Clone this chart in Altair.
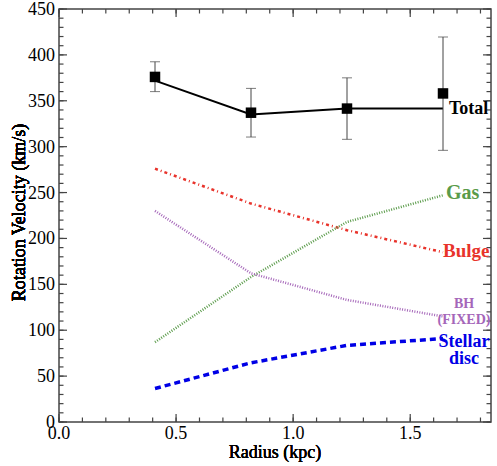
import altair as alt
import pandas as pd

# ---- data ----
radius = [0.41, 0.82, 1.23, 1.64]
total_obs = [376, 337, 341.5, 358]
total_lo = [360, 310.5, 308, 296]
total_hi = [392.5, 363.5, 375, 419.5]
total_model = [372, 335, 341.5, 341.5]
bulge = [276, 238, 209, 185]
gas = [87, 158, 218, 247]
bh = [230, 162, 133, 115]
stellar = [36.5, 64.5, 83.5, 91]

x_major = [0.0, 0.5, 1.0, 1.5]
x_minor = [0.0, 0.1, 0.2, 0.3, 0.4, 0.5, 0.6, 0.7, 0.8, 0.9,
           1.0, 1.1, 1.2, 1.3, 1.4, 1.5, 1.6, 1.7, 1.8]
y_major = [0, 50, 100, 150, 200, 250, 300, 350, 400, 450]
y_minor = list(range(0, 451, 10))

x_title = "Radius (kpc)"
y_title = "Rotation Velocity (km/s)"

W, H = 432, 413
XD = [0, 1.845]
YD = [0, 450]
FONT = "Liberation Serif"
AX = "#444444"

obs = pd.DataFrame({"x": radius, "v": total_obs, "lo": total_lo, "hi": total_hi})
comp = pd.DataFrame({
    "x": radius * 5,
    "v": total_model + bulge + gas + bh + stellar,
    "s": ["total"] * 4 + ["bulge"] * 4 + ["gas"] * 4 + ["bh"] * 4 + ["stellar"] * 4,
})
xt_major = pd.DataFrame({"t": x_major})
xt_minor = pd.DataFrame({"t": x_minor})
yt_major = pd.DataFrame({"t": y_major})
yt_minor = pd.DataFrame({"t": y_minor})

xs = alt.Scale(domain=XD, nice=False, zero=False)
ys = alt.Scale(domain=YD, nice=False, zero=False)


def X(field="x:Q"):
    return alt.X(field, scale=xs, axis=None)


def Y(field="v:Q"):
    return alt.Y(field, scale=ys, axis=None)


base = alt.Chart(comp)


def series_line(name, color, width, dash=None):
    kw = dict(color=color, strokeWidth=width)
    if dash:
        kw["strokeDash"] = dash
    return base.transform_filter(alt.datum.s == name).mark_line(**kw).encode(x=X(), y=Y())


def series_label(name, text, color, size, dx, dy, align="left", lh=None):
    kw = dict(font=FONT, fontWeight="bold", fontSize=size, fill=color, strokeWidth=0,
              align=align, baseline="middle", dx=dx, dy=dy)
    if lh:
        kw["lineHeight"] = lh
    return (base.transform_filter((alt.datum.s == name) & (alt.datum.x == 1.64))
            .mark_text(**kw).encode(x=X(), y=Y(), text=alt.value(text)))


RED, GREEN, PURPLE, BLUE = "#e8332b", "#5a9b4a", "#a566b9", "#0000e6"

# ---- inward ticks on all four sides ----
def yticks(df, length):
    left = alt.Chart(df).mark_rule(color=AX, strokeWidth=1.2).encode(
        y=Y("t:Q"), x=alt.value(0), x2=alt.value(length))
    right = alt.Chart(df).mark_rule(color=AX, strokeWidth=1.2).encode(
        y=Y("t:Q"), x=alt.value(W - length), x2=alt.value(W))
    return [left, right]


def xticks(df, length):
    bottom = alt.Chart(df).mark_rule(color=AX, strokeWidth=1.2).encode(
        x=X("t:Q"), y=alt.value(H), y2=alt.value(H - length))
    top = alt.Chart(df).mark_rule(color=AX, strokeWidth=1.2).encode(
        x=X("t:Q"), y=alt.value(0), y2=alt.value(length))
    return [bottom, top]


ticks = yticks(yt_minor, 4.5) + yticks(yt_major, 8) + xticks(xt_minor, 4.5) + xticks(xt_major, 8)

# ---- tick labels and titles ----
TXT = dict(font=FONT, fontSize=18, fontWeight="normal", fill="black", strokeWidth=0)
ylab = alt.Chart(yt_major).mark_text(align="right", baseline="alphabetic", dy=6, **TXT).encode(
    y=Y("t:Q"), x=alt.value(-4), text=alt.Text("t:Q", format="d"))
xlab = alt.Chart(xt_major).mark_text(align="center", baseline="alphabetic", **TXT).encode(
    x=X("t:Q"), y=alt.value(H + 16.5), text=alt.Text("t:Q", format=".1f"))
xtitle = alt.Chart(xt_major).mark_text(align="center", baseline="alphabetic", **TXT).encode(
    x=alt.value(W / 2), y=alt.value(H + 35.5), text=alt.value(x_title))
ytitle = alt.Chart(yt_major).mark_text(align="center", baseline="alphabetic", angle=270,
                                       **TXT).encode(
    x=alt.value(-34), y=alt.value(H / 2 - 3), text=alt.value(y_title))

# ---- series ----
lines = [
    series_line("bulge", RED, 2.5, [3, 3, 1, 3]),
    series_line("gas", GREEN, 2.5, [1, 1.5]),
    series_line("bh", PURPLE, 2.5, [1, 1.5]),
    series_line("stellar", BLUE, 3.5, [6, 4]),
    series_line("total", "black", 2),
]

err = alt.Chart(obs).mark_rule(color=AX, strokeWidth=1).encode(
    x=X(), y=Y("lo:Q"), y2="hi:Q")
cap_lo = alt.Chart(obs).mark_tick(orient="horizontal", size=10, thickness=1, color=AX).encode(
    x=X(), y=Y("lo:Q"))
cap_hi = alt.Chart(obs).mark_tick(orient="horizontal", size=10, thickness=1, color=AX).encode(
    x=X(), y=Y("hi:Q"))
pts = alt.Chart(obs).mark_square(size=110, color="black", opacity=1).encode(x=X(), y=Y())

labels = [
    series_label("total", "Total", "black", 18, 6, 0),
    series_label("gas", "Gas", GREEN, 20, 3, -2),
    series_label("bulge", "Bulge", RED, 19, 0, -1),
    series_label("bh", ["BH", "(FIXED)"], PURPLE, 14, 21, -12, align="center", lh=16),
    series_label("stellar", ["Stellar", "disc"], BLUE, 18, 21, 4, align="center", lh=17),
]

chart = (
    alt.layer(*ticks, ylab, xlab, xtitle, ytitle, *lines, err, cap_lo, cap_hi, pts, *labels)
    .properties(width=W, height=H,
                padding={"left": 59, "top": 9, "right": 6, "bottom": 44},
                autosize=alt.AutoSizeParams(type="none"))
    .configure_view(stroke=AX, strokeWidth=1.5)
)

chart.save("out.html", embed_options={"renderer": "svg", "actions": False})
